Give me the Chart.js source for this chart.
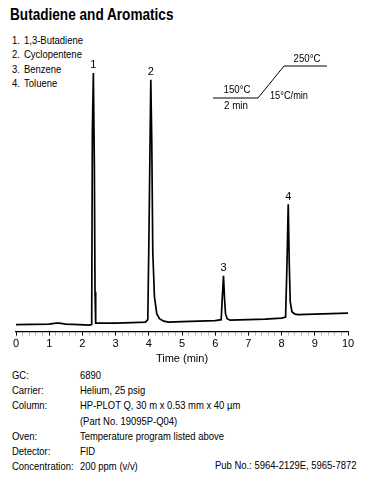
<!DOCTYPE html>
<html>
<head>
<meta charset="utf-8">
<script src="https://cdn.jsdelivr.net/npm/chart.js@4.4.1/dist/chart.umd.min.js"></script>
<style>
  html, body { margin: 0; padding: 0; background: #fff; }
  body { width: 368px; height: 484px; position: relative; overflow: hidden;
         font-family: 'Liberation Sans', Arial, sans-serif; color: #000; }
  .title { position: absolute; left: 10px; top: 5px; font-size: 17px; font-weight: 700;
           transform: scaleX(0.8); transform-origin: left top; white-space: nowrap; }
  .peaks { position: absolute; left: 12px; top: 33px; font-size: 11px; line-height: 14.4px;
           transform: scaleX(0.86); transform-origin: left top; white-space: nowrap; }
  .peaks div span { display: inline-block; width: 14px; }
  #wrap { position: absolute; left: 0; top: 40px; width: 368px; height: 326px; }
  #oven { position: absolute; left: 0; top: 0; }
  .info { position: absolute; left: 12px; top: 368px; font-size: 11px; line-height: 15.2px;
          transform: scaleX(0.86); transform-origin: left top; white-space: nowrap; }
  .info .row { display: flex; }
  .info .k { width: 79px; }
  .pub { position: absolute; left: 215px; top: 459px; font-size: 11px;
         transform: scaleX(0.86); transform-origin: left top; white-space: nowrap; }
</style>
</head>
<body>
<div class="title">Butadiene and Aromatics</div>
<div class="peaks" id="peaks"></div>

<div id="wrap"><canvas id="chrom"></canvas></div>

<!-- oven temperature program inset -->
<svg id="oven" width="368" height="120" font-family="Liberation Sans, Arial, sans-serif" font-size="10.5">
  <polyline points="213,98 258,98 284,66 327,66" fill="none" stroke="#000" stroke-width="1"/>
  <text x="237" y="93" text-anchor="middle" textLength="27" lengthAdjust="spacingAndGlyphs">150°C</text>
  <text x="236" y="109" text-anchor="middle" textLength="24" lengthAdjust="spacingAndGlyphs">2 min</text>
  <text x="307" y="62" text-anchor="middle" textLength="27" lengthAdjust="spacingAndGlyphs">250°C</text>
  <text x="289" y="99" text-anchor="middle" textLength="38" lengthAdjust="spacingAndGlyphs">15°C/min</text>
</svg>

<div class="info" id="info"></div>
<div class="pub">Pub No.: 5964-2129E, 5965-7872</div>

<script>
// ── DATA ─────────────────────────────────────────────────────
const peakNames  = ['1,3-Butadiene', 'Cyclopentene', 'Benzene', 'Toluene'];
const peakTimes  = [2.33, 4.06, 6.25, 8.20];
const peakHeights = [260, 253, 56, 128];

// detector trace (arbitrary units), time in min
const timeMin = [0, 1.0, 1.2, 1.3, 1.5, 1.9, 2.2, 2.28, 2.30, 2.33, 2.36, 2.38, 2.40, 2.5, 3.0, 3.5, 3.9,
  3.97, 4.01, 4.06, 4.09, 4.12, 4.17, 4.24, 4.32, 4.45, 4.6, 5.0, 5.5, 6.0, 6.18, 6.21, 6.25, 6.28,
  6.31, 6.36, 6.45, 7.0, 7.5, 8.0, 8.12, 8.16, 8.20, 8.23, 8.26, 8.31, 8.4, 8.5, 9.0, 10.0];
const signal  = [7, 7.5, 8.5, 8.5, 7.5, 7, 6.5, 7, 200, 260, 170, 40, 8.5, 8.5, 8.5, 9, 9.5,
  12, 110, 253, 190, 80, 35, 18, 13, 10.5, 9.5, 10, 10.5, 11, 12, 32, 56, 34,
  18, 13, 11.5, 12, 12.5, 13.5, 14.5, 65, 128, 70, 30, 20, 17.5, 17, 17.5, 18.5];

const xMin = 0, xMax = 10, yMax = 280;

const infoRows = [
  ['GC:', '6890'],
  ['Carrier:', 'Helium, 25 psig'],
  ['Column:', 'HP-PLOT Q, 30 m x 0.53 mm x 40 µm'],
  ['', '(Part No. 19095P-Q04)'],
  ['Oven:', 'Temperature program listed above'],
  ['Detector:', 'FID'],
  ['Concentration:', '200 ppm (v/v)'],
];

const FONT = "'Liberation Sans', Arial, sans-serif";

document.getElementById('peaks').innerHTML = peakNames
  .map((n, i) => `<div><span>${i + 1}.</span>${n}</div>`).join('');
document.getElementById('info').innerHTML = infoRows
  .map(r => `<div class="row"><span class="k">${r[0]}</span><span>${r[1]}</span></div>`).join('');

// ── PEAK NUMBER LABELS ───────────────────────────────────────
const peakLabels = {
  id: 'peakLabels',
  afterDatasetsDraw(chart) {
    const { ctx, scales: { x, y } } = chart;
    ctx.save();
    ctx.font = `11px ${FONT}`;
    ctx.fillStyle = '#000';
    ctx.textAlign = 'center';
    ctx.textBaseline = 'bottom';
    peakTimes.forEach((t, i) => {
      ctx.fillText(String(i + 1), x.getPixelForValue(t), y.getPixelForValue(peakHeights[i]) - 2);
    });
    ctx.restore();
  }
};

new Chart(document.getElementById('chrom'), {
  type: 'line',
  data: {
    datasets: [{
      data: timeMin.map((t, i) => ({ x: t, y: signal[i] })),
      borderColor: '#000',
      borderWidth: 1.7,
      pointRadius: 0,
      tension: 0,
      fill: false,
    }],
  },
  options: {
    responsive: true,
    maintainAspectRatio: false,
    animation: false,
    layout: { padding: { left: 16, right: 20, top: 13, bottom: 0 } },
    plugins: { legend: { display: false }, tooltip: { enabled: false } },
    scales: {
      x: {
        type: 'linear',
        min: xMin, max: xMax,
        grid: {
          drawOnChartArea: false,
          drawTicks: true,
          tickLength: 4,
          color: (c) => Number.isInteger(Math.round(c.tick.value * 1000) / 1000) ? '#000' : '#bbb',
        },
        border: { display: true, color: '#000', width: 1.2 },
        ticks: {
          stepSize: 0.2,
          autoSkip: false,
          maxRotation: 0,
          color: '#000',
          padding: 2,
          font: { family: FONT, size: 11 },
          callback: (v) => Math.abs(v - Math.round(v)) < 1e-6 ? String(Math.round(v)) : '',
        },
        title: {
          display: true,
          text: 'Time (min)',
          color: '#000',
          font: { family: FONT, size: 11 },
          padding: { top: 0, bottom: 0 },
        },
      },
      y: { display: false, min: 0, max: yMax },
    },
  },
  plugins: [peakLabels],
});
</script>
</body>
</html>
